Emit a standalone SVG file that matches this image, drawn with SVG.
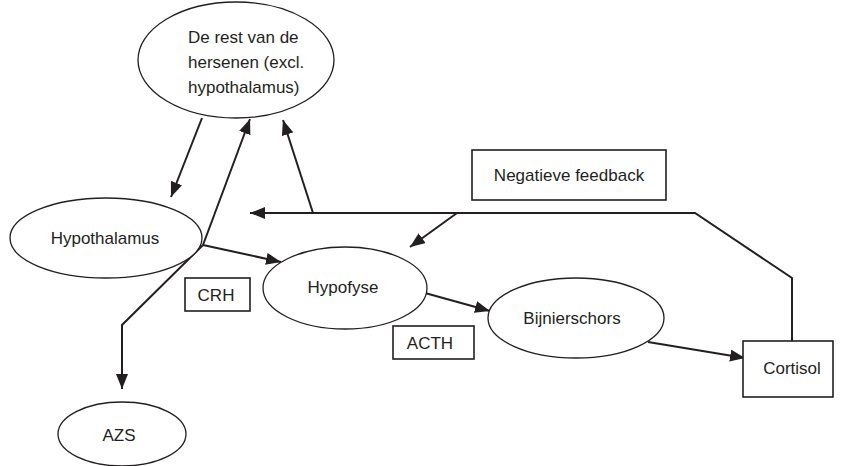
<svg xmlns="http://www.w3.org/2000/svg" width="841" height="466" viewBox="0 0 841 466">
<style>
.node ellipse,.node rect{fill:#fff;stroke:#231f20;stroke-width:1.3}
.node rect{stroke-width:1.6}
text{font-family:"Liberation Sans",Arial,sans-serif;font-size:17px;fill:#231f20}
.c{text-anchor:middle}
.conn{fill:none;stroke:#231f20;stroke-width:2}
</style>
<defs>
<marker id="ah" markerUnits="userSpaceOnUse" markerWidth="16" markerHeight="12" refX="15" refY="6" orient="auto">
<path d="M0,0 L15,6 L0,12 z" fill="#231f20"/>
</marker>
</defs>
<g id="connectors">
<line class="conn" x1="202" y1="118" x2="171" y2="197" marker-end="url(#ah)"/>
<polyline class="conn" points="203,245 250,119" marker-end="url(#ah)"/>
<polyline class="conn" points="203,245 122,325 122,389" marker-end="url(#ah)"/>
<line class="conn" x1="203" y1="245" x2="281" y2="262" marker-end="url(#ah)"/>
<polyline class="conn" points="792,341 792,278 695,213 250,213" marker-end="url(#ah)"/>
<line class="conn" x1="313" y1="213" x2="283" y2="120" marker-end="url(#ah)"/>
<line class="conn" x1="457" y1="213" x2="410" y2="247" marker-end="url(#ah)"/>
<line class="conn" x1="425" y1="293" x2="490" y2="311" marker-end="url(#ah)"/>
<line class="conn" x1="648" y1="342" x2="745" y2="358" marker-end="url(#ah)"/>
</g>
<g id="hersenen" class="node">
<ellipse cx="236" cy="60" rx="98" ry="58"/>
<text x="188" y="43">De rest van de</text>
<text x="188" y="68">hersenen (excl.</text>
<text x="188" y="93">hypothalamus)</text>
</g>
<g id="hypothalamus" class="node">
<ellipse cx="106" cy="238" rx="96" ry="40"/>
<text class="c" x="105" y="244">Hypothalamus</text>
</g>
<g id="hypofyse" class="node">
<ellipse cx="345" cy="288" rx="82" ry="41"/>
<text class="c" x="343" y="293">Hypofyse</text>
</g>
<g id="bijnierschors" class="node">
<ellipse cx="576" cy="318" rx="88" ry="40"/>
<text class="c" x="572" y="324">Bijnierschors</text>
</g>
<g id="cortisol" class="node">
<rect x="743" y="341" width="90" height="56"/>
<text class="c" x="792" y="374">Cortisol</text>
</g>
<g id="acth" class="node">
<rect x="393" y="326" width="81" height="33"/>
<text class="c" x="430" y="349">ACTH</text>
</g>
<g id="crh" class="node">
<rect x="185" y="278" width="65" height="33"/>
<text class="c" x="216" y="301">CRH</text>
</g>
<g id="negatieve-feedback" class="node">
<rect x="472" y="150" width="194" height="50"/>
<text class="c" x="569" y="181">Negatieve feedback</text>
</g>
<g id="azs" class="node">
<ellipse cx="122" cy="434" rx="64" ry="32"/>
<text class="c" x="119" y="441">AZS</text>
</g>
</svg>
